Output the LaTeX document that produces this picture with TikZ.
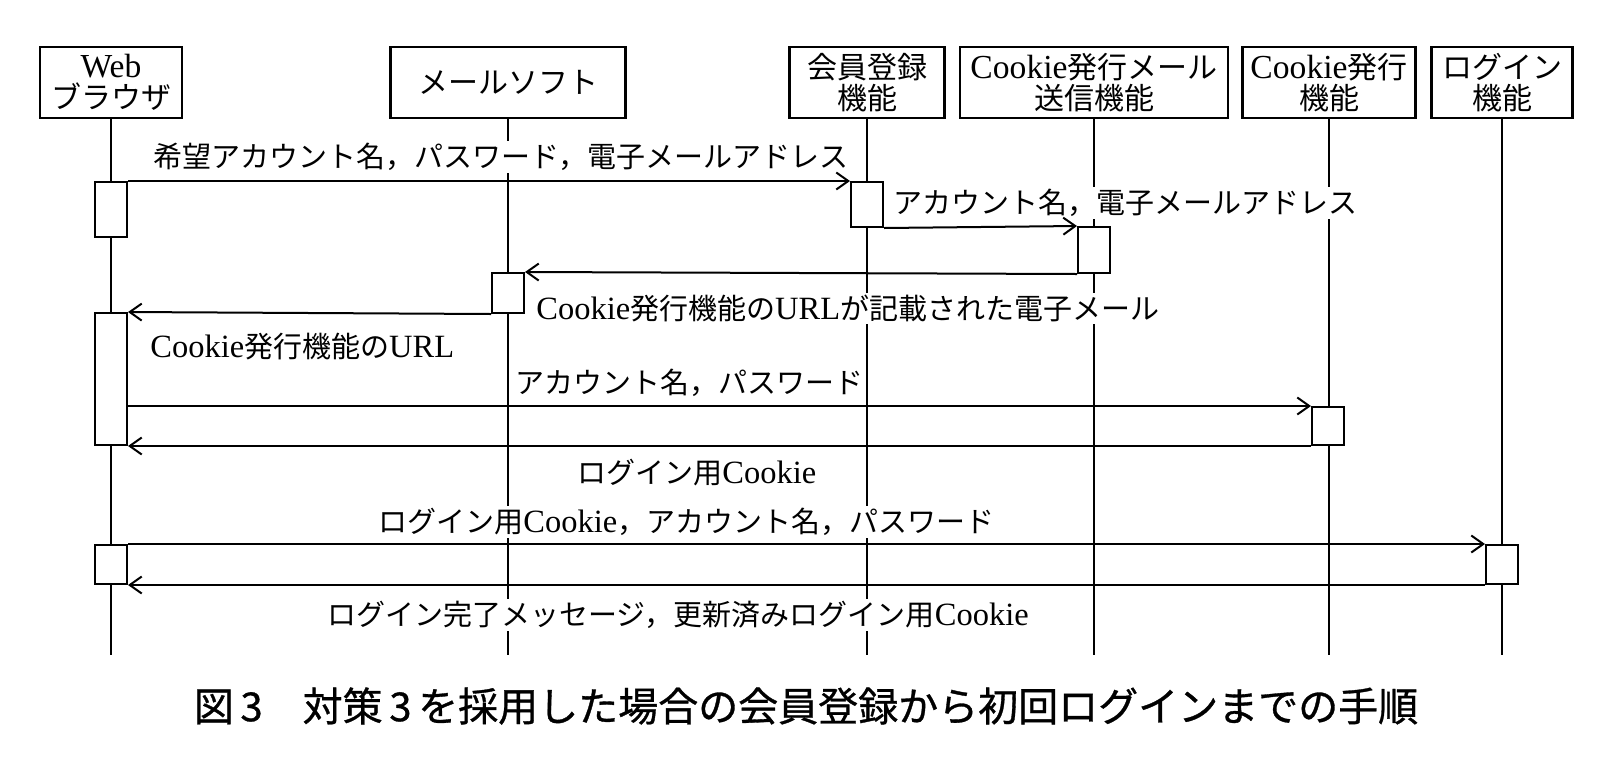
\documentclass[tikz,border=0pt]{standalone}
\usepackage{fontspec}
\setmainfont{Noto Sans CJK JP}
\newfontfamily\lat[Scale=1.12]{Liberation Serif}
\newfontfamily\capfont[FakeBold=0.8]{Noto Sans CJK JP}
\usetikzlibrary{arrows.meta}
\begin{document}
\begin{tikzpicture}[x=0.5pt,y=-0.5pt,
  head/.style={draw, line width=1.1pt, inner sep=0pt, minimum height=35.5pt, align=center, font=\fontsize{15}{15.5}\selectfont},
  act/.style={draw, fill=white, line width=1pt, inner sep=0pt, minimum width=16pt},
  msg/.style={line width=1pt, -{Straight Barb[length=6pt,width=8.5pt,line width=1pt]}},
  lbl/.style={anchor=west, fill=white, inner sep=1pt, font=\fontsize{14.5}{16}\selectfont},
  life/.style={line width=0.8pt}]
\useasboundingbox (0,0) rectangle (1598,766);
% heads
\node[head, minimum width=71pt]   (web)   at (111,82.5)  {{\lat Web}\\ブラウザ};
\node[head, minimum width=117.5pt](mail)  at (508,82.5)  {メールソフト};
\node[head, minimum width=77.5pt] (reg)   at (867,82.5)  {会員登録\\機能};
\node[head, minimum width=134pt]  (cmail) at (1094,82.5) {{\lat Cookie}発行メール\\送信機能};
\node[head, minimum width=86.5pt] (cook)  at (1329,82.5) {{\lat Cookie}発行\\機能};
\node[head, minimum width=70.5pt] (login) at (1502,82.5) {ログイン\\機能};
% lifelines
\coordinate (bot) at (0,655);
\foreach \n in {web,mail,reg,cmail,cook,login}
  \draw[life] (\n.south) -- (\n.south |- bot);
% labels
\node[lbl] (l1) at (151,157) {希望アカウント名，パスワード，電子メールアドレス};
\node[lbl] (l2) at (891,203) {アカウント名，電子メールアドレス};
\node[lbl] (l3) at (534,308) {{\lat Cookie}発行機能の{\lat URL}が記載された電子メール};
\node[lbl] (l4) at (148,347) {{\lat Cookie}発行機能の{\lat URL}};
\node[lbl] (l5) at (513,383) {アカウント名，パスワード};
\node[lbl] (l6) at (575,473) {ログイン用{\lat Cookie}};
\node[lbl] (l7) at (376,522) {ログイン用{\lat Cookie}，アカウント名，パスワード};
\node[lbl] (l8) at (325,615) {ログイン完了メッセージ，更新済みログイン用{\lat Cookie}};
% activations
\node[act, minimum height=27.5pt] (wA1) at (111,209.5) {};
\node[act, minimum height=22.5pt] (kA)  at (867,204.5) {};
\node[act, minimum height=23pt]   (cmA) at (1094,250) {};
\node[act, minimum height=20pt]   (mA)  at (508,293) {};
\node[act, minimum height=66pt]   (wA2) at (111,379) {};
\node[act, minimum height=19pt]   (cA)  at (1328,426) {};
\node[act, minimum height=19.5pt] (wA3) at (111,564.5) {};
\node[act, minimum height=19.5pt] (lA)  at (1502,564.5) {};
% messages
\draw[msg] (wA1.north east) -- (kA.north west);
\draw[msg] (kA.south east) -- (cmA.north west);
\draw[msg] (cmA.south west) -- (mA.north east);
\draw[msg] (mA.south west) -- (wA2.north east);
\draw[msg] (cA.north west -| wA2.east) -- (cA.north west);
\draw[msg] (cA.south west) -- (wA2.south east);
\draw[msg] (wA3.north east) -- (lA.north west);
\draw[msg] (lA.south west) -- (wA3.south east);
% caption
\node[font=\fontsize{20}{22}\capfont] (cap) at (806,706) {図\,3\quad 対策\,3\,を採用した場合の会員登録から初回ログインまでの手順};
\end{tikzpicture}
\end{document}
